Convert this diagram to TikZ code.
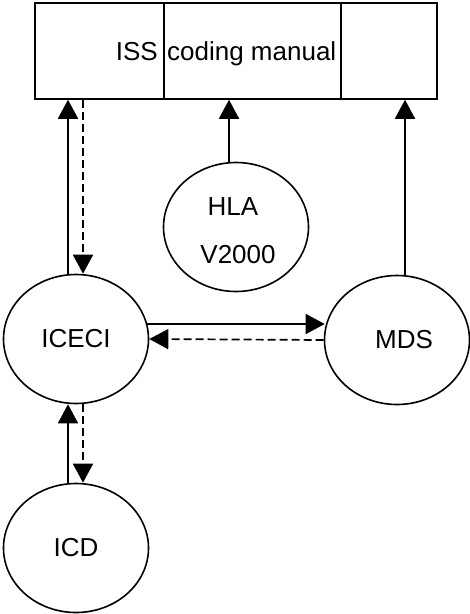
\documentclass[tikz,border=0pt]{standalone}
\usepackage{fontspec}
\setmainfont{Liberation Sans}
\usetikzlibrary{arrows.meta,shapes.geometric}
\begin{document}
\begin{tikzpicture}[x=1pt,y=-1pt,
  every node/.style={font=\fontsize{26}{30}\selectfont},
  ell/.style={draw,ellipse,line width=1.6pt,minimum width=145pt,minimum height=129pt,inner sep=0pt},
  conn/.style={line width=1.7pt,-{Triangle[length=19pt,width=20pt]}},
  dconn/.style={conn,dash pattern=on 8pt off 4pt},
  lbl/.style={inner sep=0pt}]
\useasboundingbox (0,0) rectangle (470,614);
% top box
\node[draw,line width=1.5pt,minimum width=402pt,minimum height=96pt,inner sep=0pt] (box) at (236,51) {};
\coordinate (d1t) at (164,3); \coordinate (d1b) at (164,99);
\coordinate (d2t) at (341,3); \coordinate (d2b) at (341,99);
\draw[line width=1.5pt] (d1t) -- (d1b);
\draw[line width=1.5pt] (d2t) -- (d2b);
\node[lbl,anchor=base east] (iss) at (158,60) {ISS};
\node[lbl,anchor=base west] (cm) at (167,60) {coding manual};
% ellipses
\node[ell] (iceci) at (76,339) {ICECI};
\node[ell] (mds) at (397,340) {\hspace*{14pt}MDS};
\node[ell] (hla) at (236,227) {};
\node[lbl,anchor=base] (hlat) at (233,215) {HLA};
\node[lbl,anchor=base] (v2k) at (238,263) {V2000};
\node[ell] (icd) at (76,548) {ICD};
% connectors ICECI <-> box
\coordinate (a1) at ([xshift=-8pt]iceci.north);
\coordinate (a2) at ([xshift=7pt]iceci.north);
\draw[conn] (a1) -- (a1 |- box.south);
\draw[dconn] (a2 |- box.south) -- (a2);
% HLA -> box
\coordinate (h1) at ([xshift=-7pt]hla.north);
\draw[conn] (h1) -- (h1 |- box.south);
% MDS -> box
\coordinate (m1) at ([xshift=8pt]mds.north);
\draw[conn] (m1) -- (m1 |- box.south);
% ICECI <-> MDS
\coordinate (e1) at ([yshift=15pt,xshift=-2pt]iceci.east);
\coordinate (e2) at ([yshift=16pt,xshift=1pt]mds.west);
\draw[conn] (e1) -- (e1 -| e2);
\draw[dconn] (mds.west) -- (iceci.east);
% ICD <-> ICECI
\coordinate (c1) at ([xshift=-8pt]icd.north);
\coordinate (c2) at ([xshift=7pt]iceci.south);
\draw[conn] (c1) -- (c1 |- iceci.south);
\draw[dconn] (c2) -- (c2 |- icd.north);
\end{tikzpicture}
\end{document}
